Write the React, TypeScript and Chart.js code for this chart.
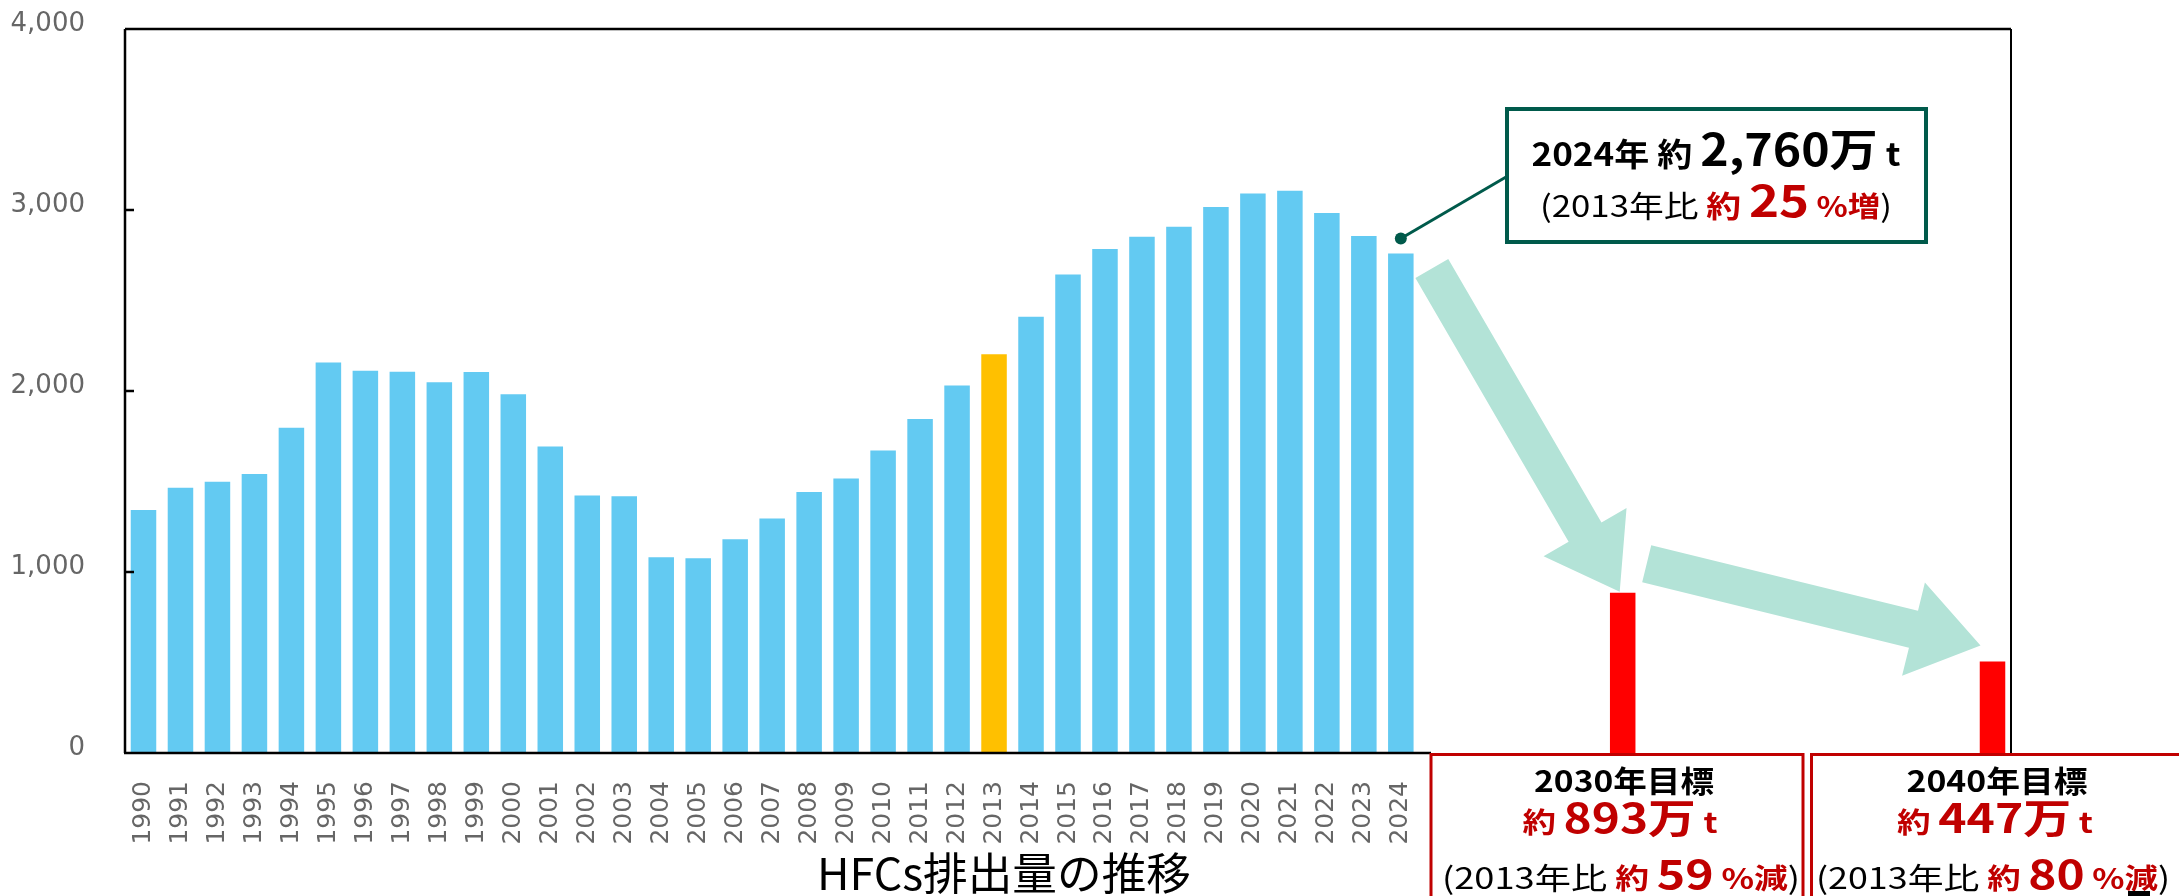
import React, { useEffect, useRef } from "react";
import { Chart, registerables } from "chart.js";

Chart.register(...registerables);

// ---- data ----
const histYears = [
  1990, 1991, 1992, 1993, 1994, 1995, 1996, 1997, 1998, 1999,
  2000, 2001, 2002, 2003, 2004, 2005, 2006, 2007, 2008, 2009,
  2010, 2011, 2012, 2013, 2014, 2015, 2016, 2017, 2018, 2019,
  2020, 2021, 2022, 2023, 2024,
];
const emissions = [
  1343, 1465, 1499, 1542, 1797, 2158, 2112, 2107, 2048, 2105,
  1982, 1693, 1422, 1419, 1082, 1076, 1181, 1295, 1442, 1516,
  1671, 1845, 2031, 2203, 2410, 2644, 2784, 2852, 2907, 3017,
  3091, 3106, 2984, 2857, 2760,
];
const baseYear = 2013;
const lastYear = 2024;
const targetYears = [2030, 2040];
const targetValues = [885, 505];
const yTicks = [0, 1000, 2000, 3000, 4000];
const axisStart = 1990;
const axisEnd = 2040;

const titleText = "HFCs排出量の推移";
const calloutAmount = "2,760万";
const calloutPct = "25";
const targetAmounts = ["893万", "447万"];
const targetPcts = ["59", "80"];

const BLUE = "#63CAF2";
const YELLOW = "#FFC000";
const RED_BAR = "#FF0000";
const DARK_RED = "#C00000";
const GREEN = "#005A4B";
const ARROW = "#B3E3D7";
const GREY = "#666666";
const JP = "'Noto Sans CJK JP', 'Noto Sans', sans-serif";
const TICK_FONT = "'DejaVu Sans', Verdana, sans-serif";

const axisYears: number[] = [];
for (let y = axisStart; y <= axisEnd; y++) axisYears.push(y);

type Run = { text: string; font: string; color: string };

function drawRuns(ctx: CanvasRenderingContext2D, runs: Run[], cx: number, baseline: number, targetW?: number) {
  const widths = runs.map((r) => {
    ctx.font = r.font;
    return ctx.measureText(r.text).width;
  });
  const total = widths.reduce((a, b) => a + b, 0);
  const sx = targetW ? targetW / total : 1;
  ctx.save();
  ctx.translate(cx - (total * sx) / 2, baseline);
  ctx.scale(sx, 1);
  ctx.textAlign = "left";
  ctx.textBaseline = "alphabetic";
  let x = 0;
  runs.forEach((r, i) => {
    ctx.font = r.font;
    ctx.fillStyle = r.color;
    ctx.fillText(r.text, x, 0);
    x += widths[i];
  });
  ctx.restore();
}

function drawArrow(
  ctx: CanvasRenderingContext2D,
  tail: { x: number; y: number },
  tip: { x: number; y: number },
  shaftW: number,
  headW: number,
  headL: number,
  color: string
) {
  const dx = tip.x - tail.x;
  const dy = tip.y - tail.y;
  const L = Math.hypot(dx, dy);
  const ux = dx / L, uy = dy / L;
  const nx = -uy, ny = ux;
  const bx = tip.x - ux * headL, by = tip.y - uy * headL;
  ctx.save();
  ctx.fillStyle = color;
  ctx.beginPath();
  ctx.moveTo(tail.x + (nx * shaftW) / 2, tail.y + (ny * shaftW) / 2);
  ctx.lineTo(bx + (nx * shaftW) / 2, by + (ny * shaftW) / 2);
  ctx.lineTo(bx + (nx * headW) / 2, by + (ny * headW) / 2);
  ctx.lineTo(tip.x, tip.y);
  ctx.lineTo(bx - (nx * headW) / 2, by - (ny * headW) / 2);
  ctx.lineTo(bx - (nx * shaftW) / 2, by - (ny * shaftW) / 2);
  ctx.lineTo(tail.x - (nx * shaftW) / 2, tail.y - (ny * shaftW) / 2);
  ctx.closePath();
  ctx.fill();
  ctx.restore();
}

const overlayPlugin = {
  id: "overlay",
  afterDraw(chart: any) {
    const ctx: CanvasRenderingContext2D = chart.ctx;
    const { left, right, top, bottom } = chart.chartArea;
    const xs = chart.scales.x;
    const ys = chart.scales.y;
    const xp = (yr: number) => xs.getPixelForValue(axisYears.indexOf(yr));
    const yp = (v: number) => ys.getPixelForValue(v);

    // frame
    ctx.save();
    ctx.strokeStyle = "#000";
    ctx.lineWidth = 2.5;
    ctx.beginPath();
    ctx.moveTo(left, top);
    ctx.lineTo(right, top);
    ctx.moveTo(left, top);
    ctx.lineTo(left, bottom);
    ctx.moveTo(left - 1, bottom);
    ctx.lineTo(1431, bottom);
    ctx.stroke();
    ctx.lineWidth = 2;
    ctx.beginPath();
    ctx.moveTo(right, top);
    ctx.lineTo(right, bottom);
    ctx.stroke();
    ctx.lineWidth = 2.5;
    yTicks.slice(1, -1).forEach((v) => {
      ctx.beginPath();
      ctx.moveTo(left, yp(v));
      ctx.lineTo(left + 9, yp(v));
      ctx.stroke();
    });
    ctx.restore();

    const lastVal = emissions[histYears.indexOf(lastYear)];
    // arrows
    drawArrow(
      ctx,
      { x: xp(lastYear) + 31, y: yp(lastVal) + 15 },
      { x: xp(targetYears[0]) - 3, y: yp(targetValues[0]) - 1 },
      38, 96, 69, ARROW
    );
    drawArrow(
      ctx,
      { x: xp(targetYears[0]) + 24, y: yp(targetValues[0]) - 29 },
      { x: xp(targetYears[1]) - 12, y: yp(targetValues[1]) - 16 },
      38, 96, 69, ARROW
    );

    // callout
    const dotX = xp(lastYear);
    const dotY = yp(lastVal) - 15;
    ctx.save();
    ctx.strokeStyle = GREEN;
    ctx.lineWidth = 3;
    ctx.beginPath();
    ctx.moveTo(dotX, dotY);
    ctx.lineTo(1506, 177);
    ctx.stroke();
    ctx.fillStyle = GREEN;
    ctx.beginPath();
    ctx.arc(dotX, dotY, 6, 0, Math.PI * 2);
    ctx.fill();
    ctx.fillStyle = "#fff";
    ctx.fillRect(1507, 109, 419, 133);
    ctx.lineWidth = 4;
    ctx.strokeRect(1507, 109, 419, 133);
    ctx.restore();

    drawRuns(ctx, [
      { text: "2024年 約 ", font: `bold 32px ${JP}`, color: "#000" },
      { text: calloutAmount, font: `bold 44px ${JP}`, color: "#000" },
      { text: " t", font: `bold 32px ${JP}`, color: "#000" },
    ], 1716, 166, 369);
    drawRuns(ctx, [
      { text: "(2013年比 ", font: `400 30px ${JP}`, color: "#000" },
      { text: "約 ", font: `bold 30px ${JP}`, color: DARK_RED },
      { text: calloutPct, font: `bold 44px ${JP}`, color: DARK_RED },
      { text: " %増", font: `bold 28px ${JP}`, color: DARK_RED },
      { text: ")", font: `400 30px ${JP}`, color: "#000" },
    ], 1716, 217, 352);

    // target boxes
    ctx.save();
    ctx.strokeStyle = DARK_RED;
    ctx.lineWidth = 3;
    ctx.strokeRect(1431, bottom + 1.5, 372, 200);
    ctx.strokeRect(1811.5, bottom + 1.5, 400, 200);
    ctx.restore();

    const boxes = [
      { year: "2030年目標", c1: 1624, w1: 180, c2: 1620, w2: 195, c3: 1621, w3: 358 },
      { year: "2040年目標", c1: 1997, w1: 181, c2: 1995, w2: 196, c3: 1993, w3: 354 },
    ];
    boxes.forEach((b, i) => {
      drawRuns(ctx, [{ text: b.year, font: `bold 30px ${JP}`, color: "#000" }], b.c1, 792, b.w1);
      drawRuns(ctx, [
        { text: "約 ", font: `bold 28px ${JP}`, color: DARK_RED },
        { text: targetAmounts[i], font: `bold 40px ${JP}`, color: DARK_RED },
        { text: " t", font: `bold 28px ${JP}`, color: DARK_RED },
      ], b.c2, 833, b.w2);
      drawRuns(ctx, [
        { text: "(2013年比 ", font: `400 30px ${JP}`, color: "#000" },
        { text: "約 ", font: `bold 28px ${JP}`, color: DARK_RED },
        { text: targetPcts[i], font: `bold 40px ${JP}`, color: DARK_RED },
        { text: " %減", font: `bold 28px ${JP}`, color: DARK_RED },
        { text: ")", font: `400 30px ${JP}`, color: "#000" },
      ], b.c3, 889, b.w3);
    });

    // title
    drawRuns(ctx, [{ text: titleText, font: `400 44px ${JP}`, color: "#000" }], 1004, 890, 374);

    // small mark
    ctx.fillStyle = "#000";
    ctx.fillRect(2128, 891, 22, 5);
  },
};

export default function App() {
  const ref = useRef<HTMLCanvasElement>(null);
  useEffect(() => {
    if (!ref.current) return;
    const values = axisYears.map((y) => {
      const i = histYears.indexOf(y);
      if (i >= 0) return emissions[i];
      const j = targetYears.indexOf(y);
      if (j >= 0) return targetValues[j];
      return null;
    });
    const colors = axisYears.map((y) =>
      targetYears.includes(y) ? RED_BAR : y === baseYear ? YELLOW : BLUE
    );
    const chart = new Chart(ref.current, {
      type: "bar",
      data: {
        labels: axisYears.map(String),
        datasets: [
          {
            data: values as any,
            backgroundColor: colors,
            borderWidth: 0,
            barPercentage: 0.69,
            categoryPercentage: 1,
          },
        ],
      },
      options: {
        animation: false,
        responsive: false,
        devicePixelRatio: 1,
        events: [],
        layout: { padding: { top: 29, right: 168, left: 0, bottom: 0 } },
        plugins: { legend: { display: false }, tooltip: { enabled: false } },
        scales: {
          x: {
            grid: { display: false, drawTicks: false },
            border: { display: false },
            ticks: {
              autoSkip: false,
              minRotation: 90,
              maxRotation: 90,
              padding: 28,
              color: GREY,
              font: { family: TICK_FONT, size: 25 },
              callback: (_v: any, i: number) => (axisYears[i] <= lastYear ? String(axisYears[i]) : ""),
            },
            afterFit: (s: any) => {
              s.height = 143;
              s.paddingLeft = 0;
              s.paddingRight = 0;
              s.paddingTop = 0;
              s.paddingBottom = 0;
            },
          },
          y: {
            min: 0,
            max: 4000,
            grid: { display: false, drawTicks: false },
            border: { display: false },
            ticks: {
              stepSize: 1000,
              padding: 40,
              labelOffset: -5,
              color: GREY,
              font: { family: TICK_FONT, size: 26 },
            },
            afterFit: (s: any) => {
              s.width = 125;
              s.paddingTop = 0;
              s.paddingBottom = 0;
              s.paddingLeft = 0;
              s.paddingRight = 0;
            },
          },
        },
      },
      plugins: [overlayPlugin],
    });
    return () => chart.destroy();
  }, []);
  return (
    <div style={{ position: "fixed", left: 0, top: 0, width: 2179, height: 896, background: "#fff" }}>
      <canvas ref={ref} width={2179} height={896} style={{ display: "block" }} />
    </div>
  );
}
